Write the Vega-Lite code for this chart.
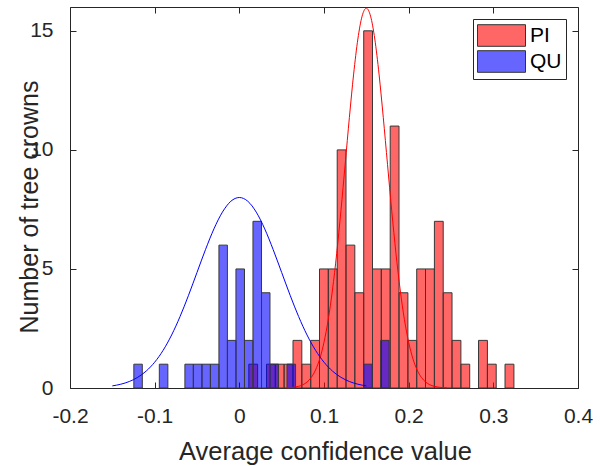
{
  "$schema": "https://vega.github.io/schema/vega-lite/v6.json",
  "width": 508,
  "height": 381,
  "autosize": {"type": "none"},
  "padding": {"left": 70, "top": 7, "right": 22, "bottom": 78},
  "background": "white",
  "config": {"view": {"stroke": "#262626", "strokeWidth": 1}, "font": "Liberation Sans"},
  "datasets": {
    "bins": [
      {"species": "PI", "lo": 0.0112, "hi": 0.0216, "count": 1},
      {"species": "PI", "lo": 0.0321, "hi": 0.0425, "count": 1},
      {"species": "PI", "lo": 0.0425, "hi": 0.0529, "count": 1},
      {"species": "PI", "lo": 0.0529, "hi": 0.0634, "count": 1},
      {"species": "PI", "lo": 0.0634, "hi": 0.0738, "count": 2},
      {"species": "PI", "lo": 0.0738, "hi": 0.0843, "count": 1},
      {"species": "PI", "lo": 0.0843, "hi": 0.0947, "count": 2},
      {"species": "PI", "lo": 0.0947, "hi": 0.1051, "count": 5},
      {"species": "PI", "lo": 0.1051, "hi": 0.1156, "count": 5},
      {"species": "PI", "lo": 0.1156, "hi": 0.126, "count": 10},
      {"species": "PI", "lo": 0.126, "hi": 0.1364, "count": 6},
      {"species": "PI", "lo": 0.1364, "hi": 0.1469, "count": 4},
      {"species": "PI", "lo": 0.1469, "hi": 0.1573, "count": 15},
      {"species": "PI", "lo": 0.1573, "hi": 0.1677, "count": 5},
      {"species": "PI", "lo": 0.1677, "hi": 0.1782, "count": 5},
      {"species": "PI", "lo": 0.1782, "hi": 0.1886, "count": 11},
      {"species": "PI", "lo": 0.1886, "hi": 0.1991, "count": 4},
      {"species": "PI", "lo": 0.1991, "hi": 0.2095, "count": 2},
      {"species": "PI", "lo": 0.2095, "hi": 0.2199, "count": 5},
      {"species": "PI", "lo": 0.2199, "hi": 0.2304, "count": 5},
      {"species": "PI", "lo": 0.2304, "hi": 0.2408, "count": 7},
      {"species": "PI", "lo": 0.2408, "hi": 0.2512, "count": 4},
      {"species": "PI", "lo": 0.2512, "hi": 0.2617, "count": 2},
      {"species": "PI", "lo": 0.2617, "hi": 0.2721, "count": 1},
      {"species": "PI", "lo": 0.2825, "hi": 0.293, "count": 2},
      {"species": "PI", "lo": 0.293, "hi": 0.3034, "count": 1},
      {"species": "PI", "lo": 0.3138, "hi": 0.3243, "count": 1},
      {"species": "QU", "lo": -0.1246, "hi": -0.1146, "count": 1},
      {"species": "QU", "lo": -0.0945, "hi": -0.0844, "count": 1},
      {"species": "QU", "lo": -0.0643, "hi": -0.0543, "count": 1},
      {"species": "QU", "lo": -0.0543, "hi": -0.0442, "count": 1},
      {"species": "QU", "lo": -0.0442, "hi": -0.0342, "count": 1},
      {"species": "QU", "lo": -0.0342, "hi": -0.0241, "count": 1},
      {"species": "QU", "lo": -0.0241, "hi": -0.0141, "count": 6},
      {"species": "QU", "lo": -0.0141, "hi": -0.004, "count": 2},
      {"species": "QU", "lo": -0.004, "hi": 0.0061, "count": 5},
      {"species": "QU", "lo": 0.0061, "hi": 0.0161, "count": 2},
      {"species": "QU", "lo": 0.0161, "hi": 0.0262, "count": 7},
      {"species": "QU", "lo": 0.0262, "hi": 0.0362, "count": 4},
      {"species": "QU", "lo": 0.0362, "hi": 0.0463, "count": 1},
      {"species": "QU", "lo": 0.0563, "hi": 0.0664, "count": 1},
      {"species": "QU", "lo": 0.1468, "hi": 0.1568, "count": 1},
      {"species": "QU", "lo": 0.1669, "hi": 0.1769, "count": 2}
    ],
    "redcurve": [
      {"x": 0.055, "y": 0.008}, {"x": 0.06, "y": 0.017}, {"x": 0.065, "y": 0.035}, {"x": 0.07, "y": 0.071},
      {"x": 0.075, "y": 0.136}, {"x": 0.08, "y": 0.252}, {"x": 0.085, "y": 0.446}, {"x": 0.09, "y": 0.757},
      {"x": 0.095, "y": 1.231}, {"x": 0.1, "y": 1.92}, {"x": 0.105, "y": 2.871}, {"x": 0.11, "y": 4.115},
      {"x": 0.115, "y": 5.653}, {"x": 0.12, "y": 7.444}, {"x": 0.125, "y": 9.396}, {"x": 0.13, "y": 11.367},
      {"x": 0.135, "y": 13.183}, {"x": 0.14, "y": 14.655}, {"x": 0.145, "y": 15.616}, {"x": 0.15, "y": 15.95},
      {"x": 0.155, "y": 15.616}, {"x": 0.16, "y": 14.655}, {"x": 0.165, "y": 13.183}, {"x": 0.17, "y": 11.367},
      {"x": 0.175, "y": 9.396}, {"x": 0.18, "y": 7.444}, {"x": 0.185, "y": 5.653}, {"x": 0.19, "y": 4.115},
      {"x": 0.195, "y": 2.871}, {"x": 0.2, "y": 1.92}, {"x": 0.205, "y": 1.231}, {"x": 0.21, "y": 0.757},
      {"x": 0.215, "y": 0.446}, {"x": 0.22, "y": 0.252}, {"x": 0.225, "y": 0.136}, {"x": 0.23, "y": 0.071},
      {"x": 0.235, "y": 0.035}, {"x": 0.24, "y": 0.017}, {"x": 0.245, "y": 0.008}
    ],
    "bluecurve": [
      {"x": -0.15, "y": 0.089}, {"x": -0.14, "y": 0.159}, {"x": -0.13, "y": 0.272}, {"x": -0.12, "y": 0.449},
      {"x": -0.11, "y": 0.711}, {"x": -0.1, "y": 1.083}, {"x": -0.09, "y": 1.583}, {"x": -0.08, "y": 2.224},
      {"x": -0.07, "y": 3.002}, {"x": -0.06, "y": 3.894}, {"x": -0.05, "y": 4.852}, {"x": -0.04, "y": 5.809},
      {"x": -0.03, "y": 6.682}, {"x": -0.02, "y": 7.385}, {"x": -0.01, "y": 7.842}, {"x": 0, "y": 8.0},
      {"x": 0.01, "y": 7.842}, {"x": 0.02, "y": 7.385}, {"x": 0.03, "y": 6.682}, {"x": 0.04, "y": 5.809},
      {"x": 0.05, "y": 4.852}, {"x": 0.06, "y": 3.894}, {"x": 0.07, "y": 3.002}, {"x": 0.08, "y": 2.224},
      {"x": 0.09, "y": 1.583}, {"x": 0.1, "y": 1.083}, {"x": 0.11, "y": 0.711}, {"x": 0.12, "y": 0.449},
      {"x": 0.13, "y": 0.272}, {"x": 0.14, "y": 0.159}, {"x": 0.15, "y": 0.089}
    ]
  },
  "layer": [
    {
      "data": {"name": "bins"},
      "mark": {"type": "bar", "stroke": "#383838", "strokeWidth": 1},
      "encoding": {
        "x": {
          "field": "lo", "type": "quantitative",
          "scale": {"domain": [-0.2, 0.4], "nice": false, "zero": false},
          "axis": {
            "orient": "bottom", "values": [-0.2, -0.1, 0, 0.1, 0.2, 0.3, 0.4],
            "labelExpr": "toString(datum.value)", "labelFlush": false, "labelOverlap": false,
            "domain": false, "grid": false, "tickSize": -6, "tickColor": "#262626",
            "labelFontSize": 21, "labelColor": "#262626", "labelPadding": 23,
            "title": "Average confidence value", "titleFontSize": 25.5, "titleFontWeight": "normal",
            "titleColor": "#262626", "titleX": 255, "titleY": 71.5, "titleBaseline": "alphabetic", "titleAlign": "center"
          }
        },
        "x2": {"field": "hi"},
        "y": {
          "field": "count", "type": "quantitative",
          "scale": {"domain": [0, 16], "nice": false},
          "axis": {
            "orient": "left", "values": [0, 5, 10, 15],
            "labelExpr": "toString(datum.value)", "labelFlush": false, "labelOverlap": false,
            "domain": false, "grid": false, "tickSize": -6, "tickColor": "#262626",
            "labelFontSize": 21, "labelColor": "#262626", "labelPadding": 23,
            "title": "Number of tree crowns", "titleFontSize": 25, "titleFontWeight": "normal",
            "titleColor": "#262626", "titleX": -33, "titleY": 199.5, "titleAngle": -90,
            "titleBaseline": "alphabetic", "titleAlign": "center"
          }
        },
        "y2": {"datum": 0},
        "color": {
          "field": "species", "type": "nominal",
          "scale": {"domain": ["PI", "QU"], "range": ["rgba(255,0,0,0.6)", "rgba(0,0,255,0.6)"]},
          "legend": {
            "orient": "none", "legendX": 403, "legendY": 12, "title": null,
            "symbolType": "M-2,-0.9L2,-0.9L2,0.9L-2,0.9Z", "symbolSize": 576,
            "symbolStrokeColor": "#333333", "symbolStrokeWidth": 1,
            "symbolOffset": 12, "labelOffset": 16,
            "labelFontSize": 21, "labelFont": "Liberation Sans", "labelColor": "#000000",
            "strokeColor": "#262626", "fillColor": "#ffffff", "padding": 4, "rowPadding": -3
          }
        }
      }
    },
    {
      "data": {"name": "redcurve"},
      "mark": {"type": "line", "color": "#ff0000", "strokeWidth": 1, "interpolate": "monotone"},
      "encoding": {
        "x": {
          "field": "x", "type": "quantitative",
          "scale": {"domain": [-0.2, 0.4], "nice": false, "zero": false},
          "axis": {"orient": "top", "values": [-0.2, -0.1, 0, 0.1, 0.2, 0.3, 0.4], "labels": false, "title": null,
                   "domain": false, "grid": false, "tickSize": -6, "tickColor": "#262626"}
        },
        "y": {
          "field": "y", "type": "quantitative",
          "scale": {"domain": [0, 16], "nice": false},
          "axis": {"orient": "right", "values": [0, 5, 10, 15], "labels": false, "title": null,
                   "domain": false, "grid": false, "tickSize": -6, "tickColor": "#262626"}
        }
      }
    },
    {
      "data": {"name": "bluecurve"},
      "mark": {"type": "line", "color": "#0000ff", "strokeWidth": 1, "interpolate": "monotone"},
      "encoding": {
        "x": {"field": "x", "type": "quantitative", "scale": {"domain": [-0.2, 0.4], "nice": false, "zero": false}, "axis": null},
        "y": {"field": "y", "type": "quantitative", "scale": {"domain": [0, 16], "nice": false}, "axis": null}
      }
    }
  ],
  "resolve": {"axis": {"x": "independent", "y": "independent"}}
}
